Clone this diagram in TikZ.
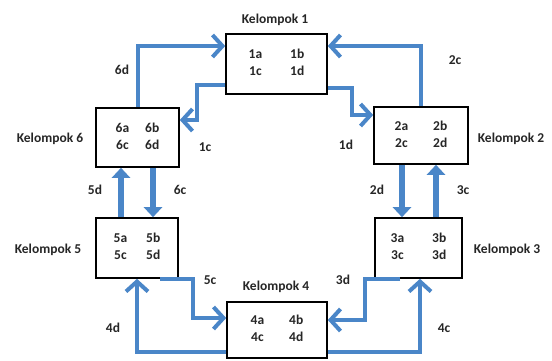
\documentclass[tikz,border=0pt]{standalone}
\usepackage{fontspec}
\setmainfont{Carlito}
\usetikzlibrary{arrows.meta}
\definecolor{ab}{HTML}{4A86C8}
\definecolor{tx}{HTML}{262626}
\newcommand\kcells[2]{\begin{tabular}{@{}c@{\hspace{#2}}c@{}}#1a & #1b\\ #1c & #1d\end{tabular}}
\begin{document}
\begin{tikzpicture}[x=1pt,y=-1pt,
  box/.style={draw=black,line width=1.6pt,fill=white,inner sep=0pt,text=tx,
    font=\bfseries\fontsize{13.5}{17}\selectfont},
  lbl/.style={text=tx,font=\bfseries\fontsize{13.5}{15}\selectfont,inner sep=0pt},
  thin/.style={draw=ab,line width=4pt,-{Straight Barb[length=10pt,width=22pt]}},
  thick/.style={draw=ab,line width=6.5pt,-{Triangle[length=10pt,width=18pt]}}]
\useasboundingbox (0,0) rectangle (552,361);
% boxes
\node[box,minimum width=101pt,minimum height=60pt] (b1) at (276.5,64) {\kcells{1}{28pt}};
\node[box,minimum width=83pt,minimum height=59pt] (b6) at (137.5,137.5) {\kcells{6}{16pt}};
\node[box,minimum width=94pt,minimum height=57pt] (b2) at (421,135.5) {\kcells{2}{25pt}};
\node[box,minimum width=82pt,minimum height=60pt] (b5) at (137,248) {\kcells{5}{19pt}};
\node[box,minimum width=87pt,minimum height=60pt] (b3) at (418.5,248) {\kcells{3}{28pt}};
\node[box,minimum width=100pt,minimum height=56pt] (b4) at (277,330) {\kcells{4}{25pt}};
% group labels
\node[lbl] (k1) at (275,20) {Kelompok 1};
\node[lbl] (k2) at (511,139) {Kelompok 2};
\node[lbl] (k3) at (507,250) {Kelompok 3};
\node[lbl] (k4) at (276,287) {Kelompok 4};
\node[lbl] (k5) at (48,250) {Kelompok 5};
\node[lbl] (k6) at (50,139) {Kelompok 6};
% connectors
\draw[thin] (b6.north) |- (b1.west |- 0,46);
\draw[thin] (b1.west |- 0,85) -| (197,120) -- (b6.east |- 0,120);
\draw[thin] (b2.north) |- (b1.east |- 0,46);
\draw[thin] (b1.east |- 0,88) -| (352,115) -- (b2.west |- 0,115);
\draw[thick] (b2.south -| 402,0) -- (b3.north -| 402,0);
\draw[thick] (b3.north -| 436,0) -- (b2.south -| 436,0);
\draw[thick] (b6.south -| 153,0) -- (b5.north -| 153,0);
\draw[thick] (b5.north -| 121,0) -- (b6.south -| 121,0);
\draw[thin] (b5.south -| 160,0) -| (193,318) -- (b4.west |- 0,318);
\draw[thin] (b4.west |- 0,352) -| (b5.south -| 137,0);
\draw[thin] (b3.south -| 400,0) -| (365,320) -- (b4.east |- 0,320);
\draw[thin] (b4.east |- 0,352) -| (b3.south -| 420,0);
% connector labels
\node[lbl] (l6d) at (122,70) {6d};
\node[lbl] (l2c) at (455,60) {2c};
\node[lbl] (l1c) at (205,147) {1c};
\node[lbl] (l1d) at (346,145) {1d};
\node[lbl] (l5d) at (95,190) {5d};
\node[lbl] (l6c) at (180,190) {6c};
\node[lbl] (l2d) at (377,190) {2d};
\node[lbl] (l3c) at (463,190) {3c};
\node[lbl] (l5c) at (210,280) {5c};
\node[lbl] (l3d) at (343,280) {3d};
\node[lbl] (l4d) at (113,328) {4d};
\node[lbl] (l4c) at (444,328) {4c};
\end{tikzpicture}
\end{document}
